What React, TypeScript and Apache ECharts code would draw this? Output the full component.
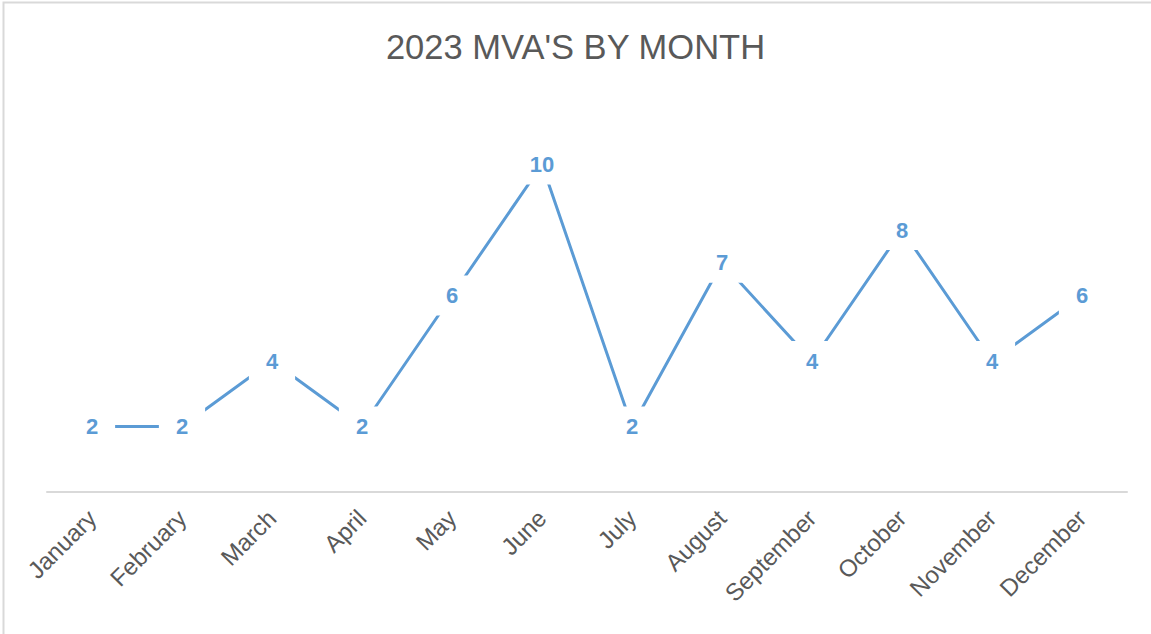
import React, { useEffect, useRef } from "react";
import * as echarts from "echarts";

const months = ["January", "February", "March", "April", "May", "June", "July", "August", "September", "October", "November", "December"];
const mvaCounts = [2, 2, 4, 2, 6, 10, 2, 7, 4, 8, 4, 6];
const titleText = "2023 MVA'S BY MONTH";

export default function App() {
  const ref = useRef<HTMLDivElement>(null);
  useEffect(() => {
    document.body.style.margin = "0";
    const chart = echarts.init(ref.current!, null, { renderer: "svg" });
    chart.setOption({
      animation: false,
      backgroundColor: "#ffffff",
      title: {
        text: titleText,
        left: "center",
        top: 24,
        textStyle: { fontFamily: "Liberation Sans", fontSize: 34.5, fontWeight: "normal", color: "#595959" },
      },
      graphic: [
        {
          type: "rect",
          shape: { x: 3.5, y: 2.5, width: 1160, height: 640 },
          style: { fill: "none", stroke: "#d9d9d9", lineWidth: 2 },
          silent: true,
        },
      ],
      grid: { left: 47, right: 24, top: 99, bottom: 142, containLabel: false },
      xAxis: {
        type: "category",
        data: months,
        boundaryGap: true,
        axisLine: { show: true, lineStyle: { color: "#d9d9d9", width: 2 } },
        axisTick: { show: false },
        axisLabel: {
          rotate: 45,
          interval: 0,
          margin: 22,
          color: "#595959",
          fontFamily: "Liberation Sans",
          fontSize: 24,
        },
      },
      yAxis: {
        type: "value",
        min: 0,
        max: 12,
        interval: 2,
        show: false,
        splitLine: { show: false },
      },
      series: [
        {
          type: "line",
          data: mvaCounts,
          symbol: "circle",
          symbolSize: 2,
          showSymbol: true,
          lineStyle: { color: "#5b9bd5", width: 3 },
          itemStyle: { color: "rgba(0,0,0,0)" },
          label: {
            show: true,
            position: "inside",
            color: "#5b9bd5",
            fontFamily: "Liberation Sans",
            fontWeight: "bold",
            fontSize: 22,
            backgroundColor: "#ffffff",
            padding: [9, 17, 9, 17],
          },
        },
      ],
    });
    return () => chart.dispose();
  }, []);
  return <div ref={ref} style={{ width: 1151, height: 634 }} />;
}
